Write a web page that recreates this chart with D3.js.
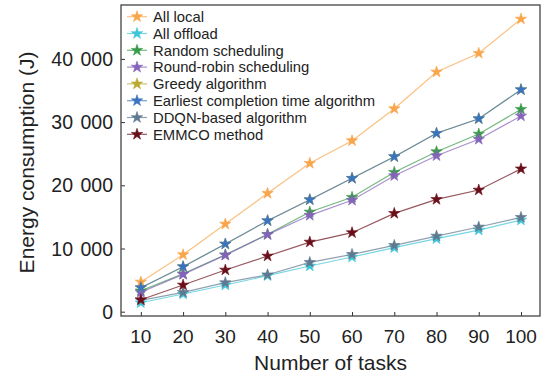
<!DOCTYPE html>
<html lang="en">
<head>
<meta charset="UTF-8">
<title>Energy consumption vs number of tasks</title>
<script src="https://d3js.org/d3.v7.min.js"></script>
<style>
    body { margin: 0; background: #fff; font-family: Arial, "Liberation Sans", sans-serif; }
    svg text { fill: #222; }
</style>
</head>
<body>
<svg id="chart" width="547" height="376"></svg>
<script>
// data
const tasks = [10, 20, 30, 40, 50, 60, 70, 80, 90, 100];
const allLocal      = [4700, 9020, 13870, 18730, 23480, 27060, 32120, 37930, 40890, 46310];
const allOffload    = [1420, 2800, 4220, 5700, 7230, 8650, 10130, 11550, 12920, 14500];
const randomSched   = [3300, 6000, 9000, 12250, 15780, 18100, 22060, 25320, 28120, 32030];
const roundRobin    = [3070, 5910, 8950, 12200, 15250, 17630, 21520, 24680, 27280, 30970];
const greedy        = [3800, 7120, 10710, 14400, 17720, 21110, 24530, 28230, 30540, 35130];
const earliest      = [3800, 7120, 10710, 14400, 17720, 21110, 24530, 28230, 30540, 35130];
const ddqn          = [1800, 3070, 4600, 5850, 7800, 9070, 10500, 11970, 13400, 14930];
const emmco         = [1900, 4220, 6600, 8810, 11020, 12500, 15560, 17770, 19250, 22600];
const yTicks = [0, 10000, 20000, 30000, 40000];

const series = [
    { name: "All local", values: allLocal, color: "#f9a54a" },
    { name: "All offload", values: allOffload, color: "#3cc6d8" },
    { name: "Random scheduling", values: randomSched, color: "#399a48" },
    { name: "Round-robin scheduling", values: roundRobin, color: "#8563bb" },
    { name: "Greedy algorithm", values: greedy, color: "#b9aa30" },
    { name: "Earliest completion time algorithm", values: earliest, color: "#3a74bf" },
    { name: "DDQN-based algorithm", values: ddqn, color: "#60798f" },
    { name: "EMMCO method", values: emmco, color: "#6a0f1a" }
];

const svg = d3.select("#chart");
const box = { left: 121, right: 540, top: 5, bottom: 316 };

const x = d3.scaleLinear().domain([5.3, 104.5]).range([box.left, box.right]);
const y = d3.scaleLinear().domain([-680, 48530]).range([box.bottom, box.top]);

// axes with inward ticks
const fmt = d => d === 0 ? "0" : d3.format(",")(d).replace(",", " ");

const yAxis = svg.append("g")
    .attr("transform", `translate(${box.left},0)`)
    .call(d3.axisRight(y).tickValues(yTicks).tickSize(4).tickFormat(""));
yAxis.select(".domain").remove();
yAxis.selectAll("line").attr("stroke", "#333");

svg.selectAll(".ylab")
    .data(yTicks)
    .enter().append("text")
    .attr("class", "ylab")
    .attr("x", 113)
    .attr("y", d => y(d))
    .attr("dy", "0.36em")
    .attr("text-anchor", "end")
    .attr("font-size", "19.5px")
    .attr("word-spacing", "2px")
    .text(fmt);

const xAxis = svg.append("g")
    .attr("transform", `translate(0,${box.bottom})`)
    .call(d3.axisTop(x).tickValues(tasks).tickSize(4).tickFormat(""));
xAxis.select(".domain").remove();
xAxis.selectAll("line").attr("stroke", "#333");

svg.selectAll(".xlab")
    .data(tasks)
    .enter().append("text")
    .attr("class", "xlab")
    .attr("x", d => x(d))
    .attr("y", 343)
    .attr("text-anchor", "middle")
    .attr("font-size", "19px")
    .text(d => d);

// frame
svg.append("rect")
    .attr("x", box.left).attr("y", box.top)
    .attr("width", box.right - box.left).attr("height", box.bottom - box.top)
    .attr("fill", "none").attr("stroke", "#444").attr("stroke-width", 1.3);

// axis titles
svg.append("text")
    .attr("x", (box.left + box.right) / 2)
    .attr("y", 370)
    .attr("text-anchor", "middle")
    .attr("font-size", "21px")
    .text("Number of tasks");

svg.append("text")
    .attr("transform", `translate(34,${(52 + 273) / 2}) rotate(-90)`)
    .attr("text-anchor", "middle")
    .attr("font-size", "21px")
    .text("Energy consumption (J)");

// lines + star markers
const line = d3.line().x((d, i) => x(tasks[i])).y(d => y(d));
const star = d3.symbol().type(d3.symbolStar).size(40);

series.forEach(s => {
    const g = svg.append("g");
    g.append("path")
        .attr("d", line(s.values))
        .attr("fill", "none")
        .attr("stroke", s.color)
        .attr("stroke-opacity", 0.7)
        .attr("stroke-width", 1.2);
    g.selectAll("path.mark")
        .data(s.values)
        .enter().append("path")
        .attr("class", "mark")
        .attr("transform", (d, i) => `translate(${x(tasks[i])},${y(d)})`)
        .attr("d", star)
        .attr("fill", s.color)
        .attr("stroke", s.color)
        .attr("stroke-width", 0.6);
});

// legend
const legend = svg.append("g");
series.forEach((s, i) => {
    const ly = 16.7 + i * 16.8;
    legend.append("line")
        .attr("x1", 127).attr("x2", 147)
        .attr("y1", ly).attr("y2", ly)
        .attr("stroke", s.color).attr("stroke-opacity", 0.7).attr("stroke-width", 1.2);
    legend.append("path")
        .attr("transform", `translate(137,${ly})`)
        .attr("d", star)
        .attr("fill", s.color)
        .attr("stroke", s.color)
        .attr("stroke-width", 0.6);
    legend.append("text")
        .attr("x", 153).attr("y", ly)
        .attr("dy", "0.36em")
        .attr("font-size", "14.8px")
        .text(s.name);
});
</script>
</body>
</html>
